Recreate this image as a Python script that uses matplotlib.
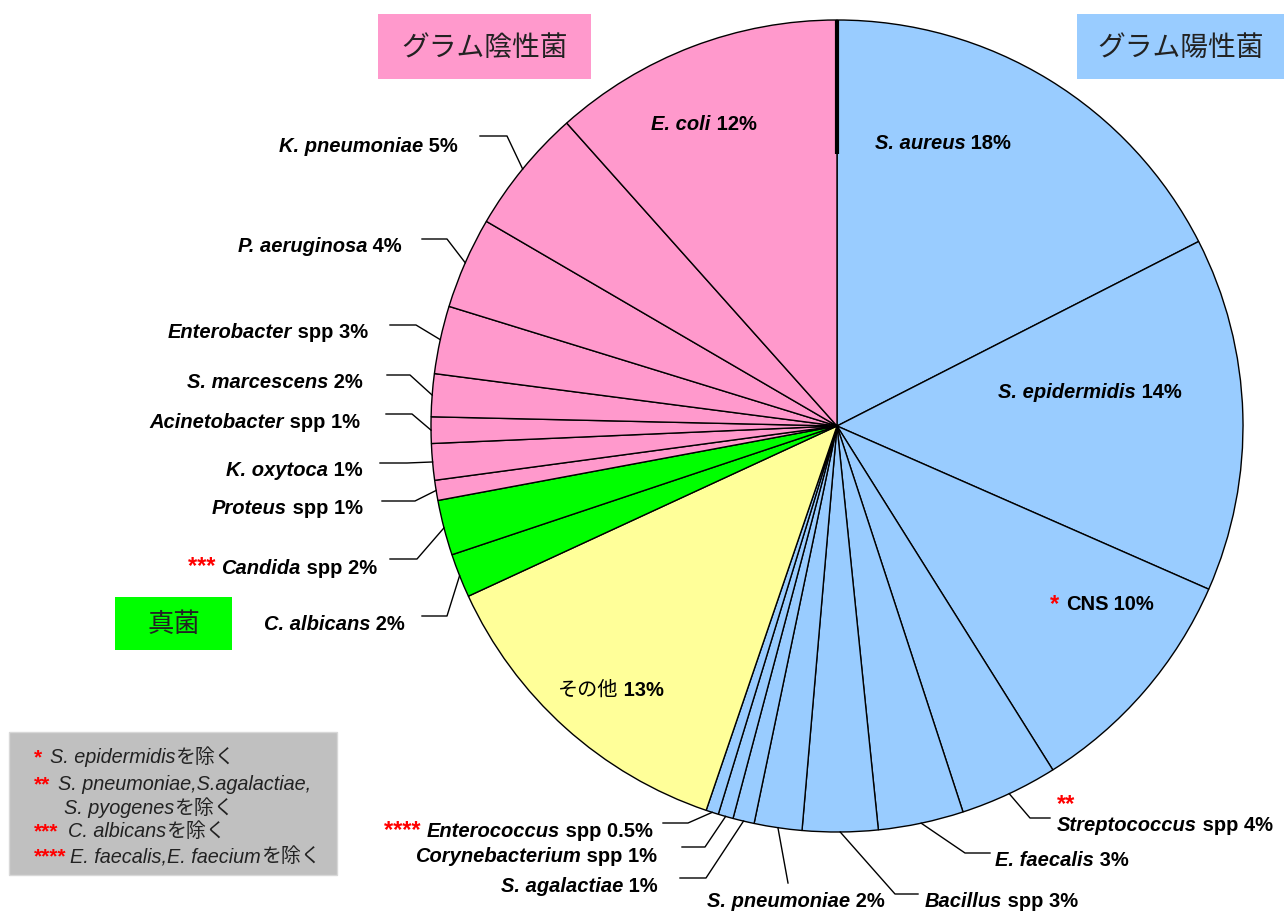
import matplotlib
matplotlib.use('Agg')
import matplotlib.pyplot as plt
from matplotlib.patches import Rectangle
import numpy as np

W, H = 1284, 912

# ---------------- data ----------------
organisms = ['S. aureus', 'S. epidermidis', 'CNS', 'Streptococcus', 'E. faecalis', 'Bacillus',
             'S. pneumoniae', 'S. agalactiae', 'Corynebacterium', 'Enterococcus', 'その他',
             'C. albicans', 'Candida', 'Proteus', 'K. oxytoca', 'Acinetobacter',
             'S. marcescens', 'Enterobacter', 'P. aeruginosa', 'K. pneumoniae', 'E. coli']
shares = [17.5, 14.1, 9.5, 3.9, 3.4, 3.0, 1.9, 0.85, 0.6, 0.5, 12.9,
          1.75, 2.2, 0.8, 1.45, 1.05, 1.7, 2.7, 3.65, 5.0, 11.6]
pct_labels = ['18%', '14%', '10%', '4%', '3%', '3%', '2%', '1%', '1%', '0.5%', '13%',
              '2%', '2%', '1%', '1%', '1%', '2%', '3%', '4%', '5%', '12%']
has_spp = [False, False, False, True, False, True, False, False, True, True, False,
           False, True, True, False, True, False, True, False, False, False]
name_style = ['it', 'it', 'rm', 'it', 'it', 'it', 'it', 'it', 'it', 'it', 'jp',
              'it', 'it', 'it', 'it', 'it', 'it', 'it', 'it', 'it', 'it']
groups = ['pos'] * 10 + ['other'] + ['fungi'] * 2 + ['neg'] * 8
marks = ['', '', '*', '**', '', '', '', '', '', '****', '',
         '', '***', '', '', '', '', '', '', '', '']

group_names = {'neg': 'グラム陰性菌', 'pos': 'グラム陽性菌', 'fungi': '真菌'}
group_colors = {'pos': '#99CCFF', 'neg': '#FF99CC', 'fungi': '#00FF00', 'other': '#FFFF99'}

foot_marks = ['*', '**', '', '***', '****']
foot_species = ['S. epidermidis', 'S. pneumoniae,S.agalactiae,', 'S. pyogenes',
                'C. albicans', 'E. faecalis,E. faecium']
foot_suffix = ['を除く', '', 'を除く', 'を除く', 'を除く']

# ---------------- layout (pixel coords, y from top) ----------------
CX, CY, R = 837, 427, 406
layout = {
    0: ('in', 943, 143),
    1: ('in', 1090, 392),
    2: ('in', 1102, 605),
    3: ('out', 1030, 819, 1050, 1057, 826, 'left'),
    4: ('out', 965, 854, 990, 995, 861, 'left'),
    5: ('out', 895, 895, 918, 925, 902, 'left'),
    6: ('vert', 788, 884, None, 796, 902, 'center'),
    7: ('out', 706, 879, 680, 658, 887, 'right'),
    8: ('out', 705, 848, 682, 657, 857, 'right'),
    9: ('out', 688, 824, 663, 653, 832, 'right'),
    10: ('in', 611, 690),
    11: ('out', 447, 617, 422, 405, 625, 'right'),
    12: ('out', 417, 560, 390, 377, 568, 'right'),
    13: ('out', 415, 502, 382, 363, 508, 'right'),
    14: ('out', 407, 464, 380, 363, 470, 'right'),
    15: ('out', 412, 415, 386, 360, 422, 'right'),
    16: ('out', 410, 376, 387, 363, 383, 'right'),
    17: ('out', 416, 326, 390, 368, 333, 'right'),
    18: ('out', 447, 240, 422, 402, 247, 'right'),
    19: ('out', 507, 137, 480, 458, 146, 'right'),
    20: ('in', 704, 124),
}

def Y(y):
    return H - y

fig = plt.figure(figsize=(W / 100, H / 100), dpi=100)
ax = fig.add_axes([0, 0, 1, 1])
colors = [group_colors[g] for g in groups]
wedges, _ = ax.pie(shares, colors=colors, startangle=90, counterclock=False,
                   center=(CX, Y(CY)), radius=R, normalize=True,
                   wedgeprops=dict(edgecolor='black', linewidth=1.0))
ax.set_xlim(0, W)
ax.set_ylim(0, H)
ax.set_aspect('equal')
ax.axis('off')

# black line at the top of the boundary
ax.plot([CX, CX], [Y(CY) + R, Y(CY) + R * 0.67], color='black', lw=3, solid_capstyle='butt')

renderer = fig.canvas.get_renderer()

FS = 14.5
IT = dict(family='Liberation Sans', style='italic', weight='bold', fontsize=FS)
BD = dict(family='Liberation Sans', weight='bold', fontsize=FS)
JP = dict(family=['Noto Sans CJK JP'], fontsize=FS)
RED = dict(family='Liberation Sans', weight='bold', fontsize=17, color='red')


def rich(x, y, parts, ha='left', va='center'):
    ts, ws = [], []
    for s, kw in parts:
        t = ax.text(x, y, s, ha='left', va=va, **kw)
        ts.append(t)
        ws.append(t.get_window_extent(renderer=renderer).width)
    total = sum(ws)
    start = {'left': x, 'right': x - total, 'center': x - total / 2}[ha]
    for t, w in zip(ts, ws):
        t.set_x(start)
        start += w
    return ts


def label_parts(i, with_mark=True):
    parts = []
    if with_mark and marks[i] and i != 3:
        parts.append((marks[i] + ' ', RED))
    style = {'it': IT, 'rm': BD, 'jp': JP}[name_style[i]]
    parts.append((organisms[i], style))
    tail = (' spp' if has_spp[i] else '') + ' ' + pct_labels[i]
    parts.append((tail, BD))
    return parts


for i, w in enumerate(wedges):
    lay = layout[i]
    th = np.deg2rad((w.theta1 + w.theta2) / 2)
    ex, ey = CX + R * np.cos(th), Y(CY) + R * np.sin(th)
    if lay[0] == 'in':
        rich(lay[1], Y(lay[2]), label_parts(i), ha='center')
        continue
    kind, bx, by, endx, tx, ty, ha = lay
    if kind == 'vert':
        ax.plot([ex, bx], [ey, Y(by)], color='black', lw=1)
    else:
        ax.plot([ex, bx, endx], [ey, Y(by), Y(by)], color='black', lw=1)
    rich(tx, Y(ty), label_parts(i), ha=ha)
    if i == 3:
        ax.text(tx, Y(ty - 21), marks[i], ha='left', va='center', **RED)

# group boxes
boxes = {'neg': (378, 15, 213, 65, 20), 'pos': (1077, 15, 207, 65, 20), 'fungi': (115, 598, 117, 53, 19)}
for g, (bx, by, bw, bh, fs) in boxes.items():
    ax.add_patch(Rectangle((bx, Y(by + bh)), bw, bh, facecolor=group_colors[g], edgecolor='none'))
    ax.text(bx + bw / 2, Y(by + bh / 2), group_names[g], ha='center', va='center',
            family=['Noto Sans CJK JP'], fontsize=fs, color='#222222')

# footnote box
ax.add_patch(Rectangle((9, Y(876)), 328, 143, facecolor='#C0C0C0', edgecolor='#D8D8D8', lw=1))
FIT = dict(family='Liberation Sans', style='italic', fontsize=14.3, color='#222222')
FJP = dict(family=['Noto Sans CJK JP'], fontsize=14.3, color='#222222')
FRED = dict(family='Liberation Sans', weight='bold', fontsize=15, color='red')
foot_rows = [(758, 50), (785, 58), (809, 64), (832, 68), (857, 70)]
for k, (fy, fx) in enumerate(foot_rows):
    if foot_marks[k]:
        ax.text(34, Y(fy), foot_marks[k], ha='left', va='center', **FRED)
    parts = [(foot_species[k], FIT)]
    if foot_suffix[k]:
        parts.append((foot_suffix[k], FJP))
    rich(fx, Y(fy), parts, ha='left')

fig.savefig('out.png', dpi=100)
